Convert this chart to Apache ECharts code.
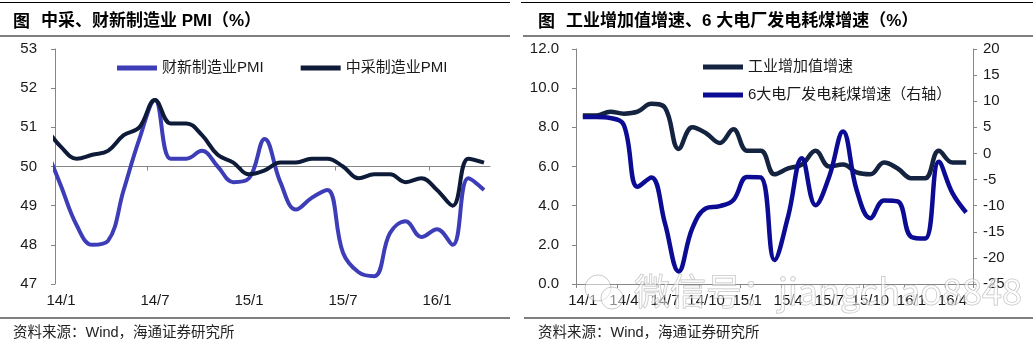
<!DOCTYPE html>
<html><head><meta charset="utf-8">
<script src="https://cdn.jsdelivr.net/npm/echarts@6/dist/echarts.min.js"></script>
<style>html,body{margin:0;padding:0;background:#fff}#c{width:1033px;height:344px}</style>
</head><body><div id="c"></div>
<script>
// ---- Left panel: PMI ----
const pmiMonths = ['13/12','14/1','14/2','14/3','14/4','14/5','14/6','14/7','14/8','14/9','14/10','14/11','14/12',
  '15/1','15/2','15/3','15/4','15/5','15/6','15/7','15/8','15/9','15/10','15/11','15/12','16/1','16/2','16/3','16/4'];
const caixinPMI = [50.5,49.5,48.5,48.0,48.1,49.4,50.7,51.7,50.2,50.2,50.4,50.0,49.6,
  49.7,50.7,49.6,48.9,49.2,49.4,47.8,47.3,47.2,48.3,48.6,48.2,48.4,48.0,49.7,49.4];
const officialPMI = [51.0,50.5,50.2,50.3,50.4,50.8,51.0,51.7,51.1,51.1,50.8,50.3,50.1,
  49.8,49.9,50.1,50.1,50.2,50.2,50.0,49.7,49.8,49.8,49.6,49.7,49.4,49.0,50.2,50.1];
const pmiLabelMonths = ['14/1','14/7','15/1','15/7','16/1'];
const pmiTicks = [47,48,49,50,51,52,53];

// ---- Right panel: IVA & coal ----
const ivaMonths = ['14/1','14/2','14/3','14/4','14/5','14/6','14/7','14/8','14/9','14/10','14/11','14/12',
  '15/1','15/2','15/3','15/4','15/5','15/6','15/7','15/8','15/9','15/10','15/11','15/12','16/1','16/2','16/3','16/4','16/5'];
const ivaGrowth = [8.6,8.6,8.8,8.7,8.8,9.2,9.0,6.9,8.0,7.7,7.2,7.9,
  6.8,6.8,5.6,5.9,6.1,6.8,6.0,6.1,5.7,5.6,6.2,5.9,5.4,5.4,6.8,6.2,6.2];
const coalGrowth = [7.0,7.0,6.8,5.4,-6.4,-4.6,-13.4,-22.6,-14.3,-10.5,-10.1,-8.9,
  -4.5,-4.6,-20.4,-12.0,-0.9,-9.9,-4.4,4.2,-7.0,-12.4,-9.0,-9.2,-16.0,-16.3,-1.6,-7.6,-11.3];
const leftAxisTicks = [0,2,4,6,8,10,12];
const rightAxisTicks = [-25,-20,-15,-10,-5,0,5,10,15,20];

const AX = '#868686', TXT = '#1a1a1a';
const LATIN = "'Liberation Sans', Arial, 'Noto Sans CJK SC', sans-serif";
const CJK = "'Liberation Sans', 'Noto Sans CJK SC', sans-serif";

const chart = echarts.init(document.getElementById('c'), null, {renderer: 'canvas'});

function rule(x1, y, x2) {
  return {type: 'line', shape: {x1: x1, y1: y, x2: x2, y2: y}, style: {stroke: '#000', lineWidth: 1.2}, silent: true};
}
function txt(x, y, s, font, fill, z) {
  return {type: 'text', x: x, y: y, z: z || 10, style: {text: s, font: font, fill: fill || '#000', align: 'left', verticalAlign: 'middle'}, silent: true};
}

const option = {
  backgroundColor: '#fff',
  animation: false,
  graphic: [
    rule(0, 2.5, 510), rule(0, 36, 510), rule(0, 318, 510),
    rule(521, 2.5, 1033), rule(523, 36, 1033), rule(524, 318, 1033),
    txt(13, 21, '图', "bold 17px 'Noto Sans CJK SC'"),
    txt(41, 21, '中采、财新制造业 PMI（%）', "bold 17px " + CJK),
    txt(538, 21, '图', "bold 17px 'Noto Sans CJK SC'"),
    txt(566, 21, '工业增加值增速、6 大电厂发电耗煤增速（%）', "bold 17px " + CJK),
    txt(13, 333, '资料来源：Wind，海通证券研究所', "14.5px " + CJK, '#222'),
    txt(538, 333, '资料来源：Wind，海通证券研究所', "14.5px " + CJK, '#222'),
    {type: 'text', x: 634, y: 291, z: 100, silent: true,
     style: {text: '微信号：jiangchao8848', font: "36px 'Noto Sans CJK SC', 'DejaVu Sans'", fill: 'rgba(255,255,255,0.55)',
             stroke: 'rgba(140,140,140,0.55)', lineWidth: 1, align: 'left', verticalAlign: 'middle'}},
    {type: 'circle', z: 100, silent: true, shape: {cx: 598, cy: 288, r: 13},
     style: {fill: 'rgba(255,255,255,0.5)', stroke: 'rgba(150,150,150,0.5)', lineWidth: 1}},
    {type: 'circle', z: 100, silent: true, shape: {cx: 612, cy: 298, r: 11},
     style: {fill: 'rgba(255,255,255,0.5)', stroke: 'rgba(150,150,150,0.5)', lineWidth: 1}}
  ],
  legend: [
    {data: ['财新制造业PMI', '中采制造业PMI'], left: 112, top: 53, itemGap: 37,
     icon: 'rect', itemWidth: 40, itemHeight: 5,
     textStyle: {fontSize: 15, color: TXT, fontFamily: CJK, lineHeight: 20}},
    {data: ['工业增加值增速', '6大电厂发电耗煤增速（右轴）'], orient: 'vertical', left: 698, top: 52, itemGap: 8,
     icon: 'rect', itemWidth: 40, itemHeight: 5,
     textStyle: {fontSize: 15, color: TXT, fontFamily: CJK, lineHeight: 20}}
  ],
  grid: [
    {left: 55, top: 49, width: 435, height: 235},
    {left: 576, top: 49, width: 397, height: 235}
  ],
  xAxis: [
    {gridIndex: 0, type: 'value', min: 0.617, max: 28.383,
     axisLine: {show: false}, axisTick: {show: false}, splitLine: {show: false},
     axisLabel: {customValues: pmiLabelMonths.map(m => pmiMonths.indexOf(m)),
       formatter: v => pmiMonths[Math.round(v)], fontSize: 15, color: TXT, fontFamily: LATIN, margin: 9}},
    {gridIndex: 0, type: 'value', min: 0.617, max: 28.383, position: 'bottom', offset: -117.5,
     axisLine: {show: true, lineStyle: {color: AX, width: 1}},
     axisTick: {show: true, length: 4, lineStyle: {color: AX},
       customValues: pmiLabelMonths.slice(1).map(m => pmiMonths.indexOf(m) - 0.5)},
     axisLabel: {show: false}, splitLine: {show: false}},
    {gridIndex: 1, type: 'category', data: ivaMonths, boundaryGap: true,
     axisLine: {show: true, lineStyle: {color: AX}},
     axisTick: {show: true, interval: 2, length: 4, lineStyle: {color: AX}},
     axisLabel: {interval: 2, fontSize: 15, color: TXT, fontFamily: LATIN, margin: 9},
     splitLine: {show: false}}
  ],
  yAxis: [
    {gridIndex: 0, type: 'value', min: pmiTicks[0], max: pmiTicks[pmiTicks.length - 1], interval: 1,
     axisLine: {show: true, lineStyle: {color: AX}},
     axisTick: {show: true, length: 4, lineStyle: {color: AX}},
     axisLabel: {fontSize: 15, color: TXT, fontFamily: LATIN, margin: 18},
     splitLine: {show: false}},
    {gridIndex: 1, type: 'value', min: leftAxisTicks[0], max: leftAxisTicks[leftAxisTicks.length - 1], interval: 2,
     axisLine: {show: true, lineStyle: {color: AX}},
     axisTick: {show: true, length: 4, lineStyle: {color: AX}},
     axisLabel: {fontSize: 15, color: TXT, fontFamily: LATIN, margin: 17, formatter: v => v.toFixed(1)},
     splitLine: {show: false}},
    {gridIndex: 1, type: 'value', position: 'right',
     min: rightAxisTicks[0], max: rightAxisTicks[rightAxisTicks.length - 1], interval: 5,
     axisLine: {show: true, lineStyle: {color: AX}},
     axisTick: {show: true, length: 4, lineStyle: {color: AX}},
     axisLabel: {fontSize: 15, color: TXT, fontFamily: LATIN, margin: 10},
     splitLine: {show: false}}
  ],
  series: [
    {name: '财新制造业PMI', type: 'line', xAxisIndex: 0, yAxisIndex: 0, smooth: 0.4, symbol: 'none',
     data: caixinPMI.map((v, i) => [i, v]), color: '#3d3db8', lineStyle: {width: 4, color: '#3d3db8'}, clip: true},
    {name: '中采制造业PMI', type: 'line', xAxisIndex: 0, yAxisIndex: 0, smooth: 0.4, symbol: 'none',
     data: officialPMI.map((v, i) => [i, v]), color: '#0e1b38', lineStyle: {width: 4, color: '#0e1b38'}, clip: true},
    {name: '工业增加值增速', type: 'line', xAxisIndex: 2, yAxisIndex: 1, smooth: 0.4, symbol: 'none',
     data: ivaGrowth, color: '#14233f', lineStyle: {width: 4.5, color: '#14233f'}},
    {name: '6大电厂发电耗煤增速（右轴）', type: 'line', xAxisIndex: 2, yAxisIndex: 2, smooth: 0.4, symbol: 'none',
     data: coalGrowth, color: '#0b0b94', lineStyle: {width: 4.5, color: '#0b0b94'}}
  ]
};
chart.setOption(option);
</script></body></html>
